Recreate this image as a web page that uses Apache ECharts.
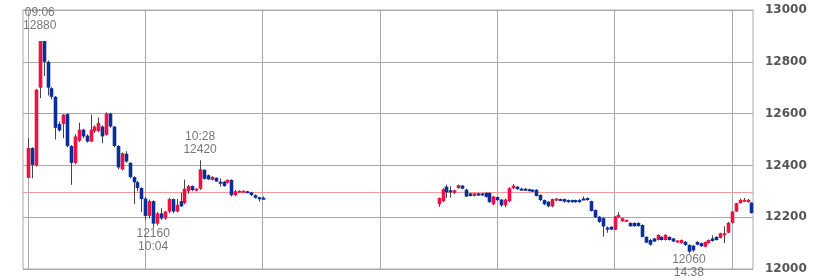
<!DOCTYPE html>
<html><head><meta charset="utf-8">
<script src="https://cdn.jsdelivr.net/npm/echarts@6/dist/echarts.min.js"></script>
<style>html,body{margin:0;padding:0;background:#fff}#c{width:826px;height:280px}</style>
</head><body><div id="c"></div>
<script>
// ---- data (2-minute candles) ----
const times = [
'09:00','09:02','09:04','09:06','09:08','09:10','09:12','09:14','09:16','09:18',
'09:20','09:22','09:24','09:26','09:28','09:30','09:32','09:34','09:36','09:38',
'09:40','09:42','09:44','09:46','09:48','09:50','09:52','09:54','09:56','09:58',
'10:00','10:02','10:04','10:06','10:08','10:10','10:12','10:14','10:16','10:18',
'10:20','10:22','10:24','10:26','10:28','10:30','10:32','10:34','10:36','10:38',
'10:40','10:42','10:44','10:46','10:48','10:50','10:52','10:54','10:56','10:58','11:00',
'12:30','12:32','12:34','12:36','12:38','12:40','12:42','12:44','12:46','12:48',
'12:50','12:52','12:54','12:56','12:58','13:00','13:02','13:04','13:06','13:08',
'13:10','13:12','13:14','13:16','13:18','13:20','13:22','13:24','13:26','13:28',
'13:30','13:32','13:34','13:36','13:38','13:40','13:42','13:44','13:46','13:48',
'13:50','13:52','13:54','13:56','13:58','14:00','14:02','14:04','14:06','14:08',
'14:10','14:12','14:14','14:16','14:18','14:20','14:22','14:24','14:26','14:28',
'14:30','14:32','14:34','14:36','14:38','14:40','14:42','14:44','14:46','14:48',
'14:50','14:52','14:54','14:56','14:58','15:00','15:02','15:04','15:06','15:08','15:10'
];
const open = [
12352,12467,12400,12700,12880,12800,12698,12665,12560,12560,
12598,12475,12410,12495,12538,12515,12492,12532,12532,12550,
12518,12600,12550,12475,12385,12445,12410,12355,12335,12313,
12272,12205,12262,12175,12215,12195,12222,12270,12222,12262,
12255,12300,12320,12305,12310,12383,12362,12344,12352,12337,
12337,12333,12344,12285,12298,12298,12300,12296,12285,12277,12275,
12250,12262,12318,12304,12294,12312,12322,12306,12292,12282,
12292,12292,12294,12294,12250,12278,12268,12246,12262,12312,
12318,12310,12310,12308,12306,12306,12286,12266,12260,12242,
12264,12270,12270,12266,12266,12266,12266,12272,12274,12262,
12228,12202,12196,12160,12163,12152,12198,12184,12184,12178,
12178,12178,12170,12124,12112,12118,12112,12124,12112,12124,
12118,12104,12100,12105,12093,12090,12105,12100,12086,12100,
12118,12124,12120,12130,12140,12178,12222,12254,12260,12258,12256
];
const high = [
12505,12470,12695,12880,12880,12805,12702,12668,12570,12598,
12600,12478,12520,12565,12540,12520,12596,12555,12585,12555,
12605,12603,12552,12478,12450,12455,12412,12358,12340,12315,
12278,12268,12265,12220,12235,12225,12275,12272,12270,12295,
12345,12325,12322,12312,12420,12385,12365,12358,12354,12350,
12340,12346,12346,12305,12304,12304,12302,12298,12288,12279,12280,
12276,12312,12326,12320,12306,12326,12324,12310,12294,12294,
12294,12294,12296,12296,12282,12280,12270,12272,12316,12328,
12320,12314,12312,12310,12308,12308,12288,12268,12262,12272,
12274,12272,12272,12268,12268,12268,12270,12280,12276,12264,
12230,12204,12200,12165,12165,12205,12220,12198,12190,12180,
12180,12180,12172,12126,12116,12120,12134,12126,12134,12126,
12120,12112,12114,12108,12095,12093,12107,12102,12106,12114,
12130,12126,12140,12165,12182,12224,12256,12272,12274,12270,12258
];
const low = [
12350,12350,12395,12660,12745,12670,12655,12500,12530,12505,
12470,12325,12405,12490,12505,12488,12490,12525,12528,12486,
12515,12545,12470,12385,12380,12410,12350,12250,12300,12220,
12190,12195,12160,12168,12190,12190,12215,12215,12218,12240,
12250,12290,12300,12300,12305,12345,12344,12342,12336,12318,
12318,12330,12280,12282,12295,12296,12293,12282,12272,12260,12272,
12240,12258,12275,12276,12290,12310,12308,12278,12280,12280,
12282,12282,12276,12256,12246,12262,12240,12238,12258,12308,
12306,12304,12302,12300,12298,12280,12262,12246,12238,12238,
12262,12264,12256,12256,12256,12256,12256,12266,12264,12222,
12196,12178,12125,12140,12150,12150,12196,12182,12182,12163,
12163,12163,12122,12100,12090,12104,12110,12110,12110,12110,
12104,12102,12098,12090,12060,12066,12092,12085,12084,12098,
12106,12110,12118,12100,12138,12176,12220,12252,12258,12256,12214
];
const close = [
12467,12402,12692,12880,12800,12700,12665,12545,12535,12596,
12475,12410,12512,12538,12512,12492,12538,12550,12564,12512,
12600,12550,12475,12392,12447,12415,12355,12335,12313,12270,
12205,12262,12175,12215,12195,12222,12270,12222,12248,12242,
12310,12320,12305,12310,12385,12348,12346,12356,12338,12330,
12320,12344,12285,12300,12302,12302,12296,12285,12275,12272,12275,
12274,12308,12296,12296,12304,12324,12310,12280,12282,12292,
12284,12284,12278,12258,12280,12266,12246,12268,12312,12322,
12308,12309,12304,12302,12300,12282,12266,12250,12242,12270,
12272,12266,12260,12258,12258,12258,12258,12270,12266,12224,
12200,12182,12164,12156,12152,12202,12209,12196,12190,12165,
12165,12166,12124,12102,12094,12106,12132,12112,12132,12112,
12106,12110,12112,12093,12067,12072,12094,12088,12104,12112,
12108,12112,12138,12138,12178,12222,12254,12267,12267,12267,12216
];
const prevClose = 12295;
const hourLines = ['09:00','10:00','11:00','12:00','13:00','14:00','15:00'];
const noteTimes = ['09:06','10:04','10:28','14:38'];
const noteValues = [12880,12160,12420,12060];
const noteSide = ['top','bottom','top','bottom'];

// ---- helpers ----
function toMin(s){ const p = s.split(':').map(Number); return (p[0]-9)*60 + p[1]; }
const UP = '#ee1144', DOWN = '#0a2f9a', WICK = '#444';
const noteGap = [9, 0, 4, 0];

const candleData = times.map((t,i)=>[toMin(t), open[i], close[i], low[i], high[i]]);

const chart = echarts.init(document.getElementById('c'), null, {renderer:'canvas'});
chart.setOption({
  animation: false,
  backgroundColor: '#fff',
  grid: { left: 23, right: 73, top: 10, bottom: 11, show: true, borderColor: '#aaaaaa', borderWidth: 1, outerBoundsMode: 'none', containLabel: false },
  xAxis: {
    type: 'value', min: -2.56, max: 370.8,
    axisLine: {show:false}, axisTick: {show:false}, axisLabel: {show:false}, splitLine: {show:false}
  },
  yAxis: {
    type: 'value', position: 'right', min: 12000, max: 13000, interval: 200,
    axisLine: { show: true, lineStyle: { color: '#aaaaaa' } },
    axisTick: { show: true, length: 8, lineStyle: { color: '#aaaaaa' } },
    axisLabel: { margin: 12, color: '#555', fontWeight: 'bold', fontFamily: 'DejaVu Sans', fontSize: 12,
      formatter: v => String(v) },
    splitLine: { show: true, lineStyle: { color: '#aaaaaa', width: 1 } }
  },
  series: [
    {
      type: 'scatter', z: 1, symbolSize: 0, silent: true,
      data: noteTimes.map((t,i)=>({
        value: [toMin(t), noteValues[i], t],
        label: { show: true, position: noteSide[i], distance: noteGap[i],
          formatter: noteSide[i]==='top' ? (t + '\n' + noteValues[i]) : (noteValues[i] + '\n' + t) }
      })),
      label: { color: '#555', fontFamily: 'Liberation Sans', fontSize: 12, lineHeight: 13, align: 'center' },
      markLine: {
        z: 1, silent: true, symbol: ['none','none'], label: { show: false },
        data: hourLines.map(h=>({ xAxis: toMin(h), lineStyle: { color: '#aaaaaa', width: 1, type: 'solid' } }))
          .concat([{ yAxis: prevClose, lineStyle: { color: '#f29a9a', width: 1, type: 'solid' } }])
      }
    },
    {
      type: 'custom', z: 3, silent: true,
      data: candleData,
      encode: { x: 0, y: [1,2,3,4] },
      renderItem: function(params, api){
        const x = api.value(0), o = api.value(1), c = api.value(2), l = api.value(3), h = api.value(4);
        const pO = api.coord([x,o]), pC = api.coord([x,c]), pH = api.coord([x,h]), pL = api.coord([x,l]);
        const w = api.size([2,0])[0]*0.92;
        const up = c > o;
        const top = Math.min(pO[1], pC[1]);
        const hgt = Math.max(2, Math.abs(pO[1]-pC[1]));
        const cx = Math.round(pO[0]) + 0.5;
        return { type:'group', children:[
          { type:'line', shape:{x1:cx, y1:pH[1], x2:cx, y2:pL[1]}, style:{stroke:WICK, lineWidth:1} },
          { type:'rect', shape:{x: cx - w/2, y: top, width: w, height: hgt}, style:{fill: up ? UP : DOWN} }
        ]};
      }
    }
  ]
});
</script>
</body></html>
